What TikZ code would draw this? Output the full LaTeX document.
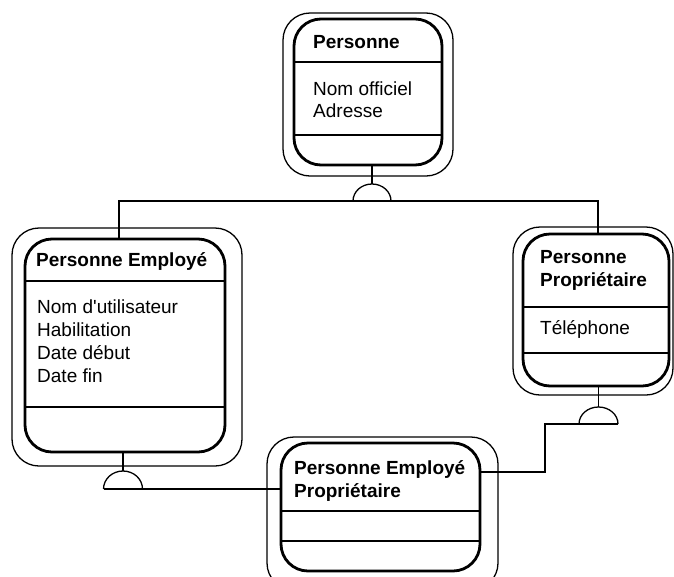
\documentclass[tikz,border=0pt]{standalone}
\usepackage{fontspec}
\setmainfont{Liberation Sans}
\newcommand{\straightquote}{\XeTeXglyph\XeTeXcharglyph"27\relax}
\begin{document}
\tikzset{
  outerbox/.style={draw, line width=1.3pt, rounded corners=27pt, inner sep=0pt, outer sep=0pt},
  innerbox/.style={draw, line width=2.8pt, rounded corners=27pt, inner sep=0pt, outer sep=0pt},
  sepline/.style={line width=2.2pt},
  conn/.style={line width=1.3pt},
  titletext/.style={anchor=base west, inner sep=0pt, font=\fontsize{19}{23}\selectfont\bfseries},
  attrtext/.style={anchor=base west, inner sep=0pt, font=\fontsize{19}{23}\selectfont},
}
\begin{tikzpicture}[x=1pt,y=-1pt]
\useasboundingbox (0,0) rectangle (674,576);
\clip (0,0) rectangle (674,576);

% Personne
\node[outerbox, minimum width=170pt, minimum height=163pt] (pout) at (368,94.5) {};
\node[innerbox, minimum width=148pt, minimum height=146pt] (pin) at (368,92) {};
\draw[sepline] (pin.west |- 0,62) -- (pin.east |- 0,62);
\draw[sepline] (pin.west |- 0,135) -- (pin.east |- 0,135);
\node[titletext] (pt) at (313,48) {Personne};
\node[attrtext] (pa1) at (313,95) {Nom officiel};
\node[attrtext] (pa2) at (313,117) {Adresse};

% Personne Employe
\node[outerbox, minimum width=230pt, minimum height=238pt] (peout) at (127,347) {};
\node[innerbox, minimum width=200pt, minimum height=213pt] (pein) at (125,345.5) {};
\draw[sepline] (pein.west |- 0,281) -- (pein.east |- 0,281);
\draw[sepline] (pein.west |- 0,407) -- (pein.east |- 0,407);
\node[titletext] (pet) at (36,266) {Personne Employé};
\node[attrtext] (pea1) at (37,313) {Nom d\straightquote utilisateur};
\node[attrtext] (pea2) at (37,336) {Habilitation};
\node[attrtext] (pea3) at (37,359) {Date début};
\node[attrtext] (pea4) at (37,382) {Date fin};

% Personne Proprietaire
\node[outerbox, minimum width=160pt, minimum height=168pt] (ppout) at (593,311) {};
\node[innerbox, minimum width=146pt, minimum height=152pt] (ppin) at (596,310) {};
\draw[sepline] (ppin.west |- 0,307) -- (ppin.east |- 0,307);
\draw[sepline] (ppin.west |- 0,353) -- (ppin.east |- 0,353);
\node[titletext] (ppt1) at (540,263) {Personne};
\node[titletext] (ppt2) at (540,286) {Propriétaire};
\node[attrtext] (ppa1) at (540,334) {Téléphone};

% Personne Employe Proprietaire
\node[outerbox, minimum width=231pt, minimum height=153pt] (pepout) at (382.5,513.5) {};
\node[innerbox, minimum width=199pt, minimum height=128pt] (pepin) at (380.5,507) {};
\draw[sepline] (pepin.west |- 0,511) -- (pepin.east |- 0,511);
\draw[sepline] (pepin.west |- 0,541) -- (pepin.east |- 0,541);
\node[titletext] (pept1) at (294,474) {Personne Employé};
\node[titletext] (pept2) at (294,497) {Propriétaire};

% Connectors
\coordinate (h1) at (372,201);
\coordinate (h2) at (123,489);
\coordinate (h3) at (598.5,424);
\coordinate (v1) at (119,201);
\coordinate (v2) at (598,201);
\coordinate (k1) at (545,424);
\coordinate (k2) at (545,472);

% top generalisation
\draw[conn] (pin.south -| h1) -- (372,184);
\draw[conn] (353,201) arc[start angle=180, end angle=0, x radius=19pt, y radius=17pt];
\draw[conn] (pein.north -| v1) -- (v1) -- (v2) -- (ppin.north -| v2);

% Personne Employe -> PEP
\draw[conn] (pein.south -| h2) -- (123,471);
\draw[conn] (103.5,489) arc[start angle=180, end angle=0, x radius=19.5pt, y radius=18pt];
\draw[conn] (103.5,489) -- (pepin.west |- h2);

% Personne Proprietaire -> PEP
\draw[conn] (ppin.south -| h3) -- (598.5,407);
\draw[conn] (579,424) arc[start angle=180, end angle=0, x radius=19.5pt, y radius=17pt];
\draw[conn] (618,424) -- (k1) -- (k2) -- (pepin.east |- k2);
\end{tikzpicture}
\end{document}
